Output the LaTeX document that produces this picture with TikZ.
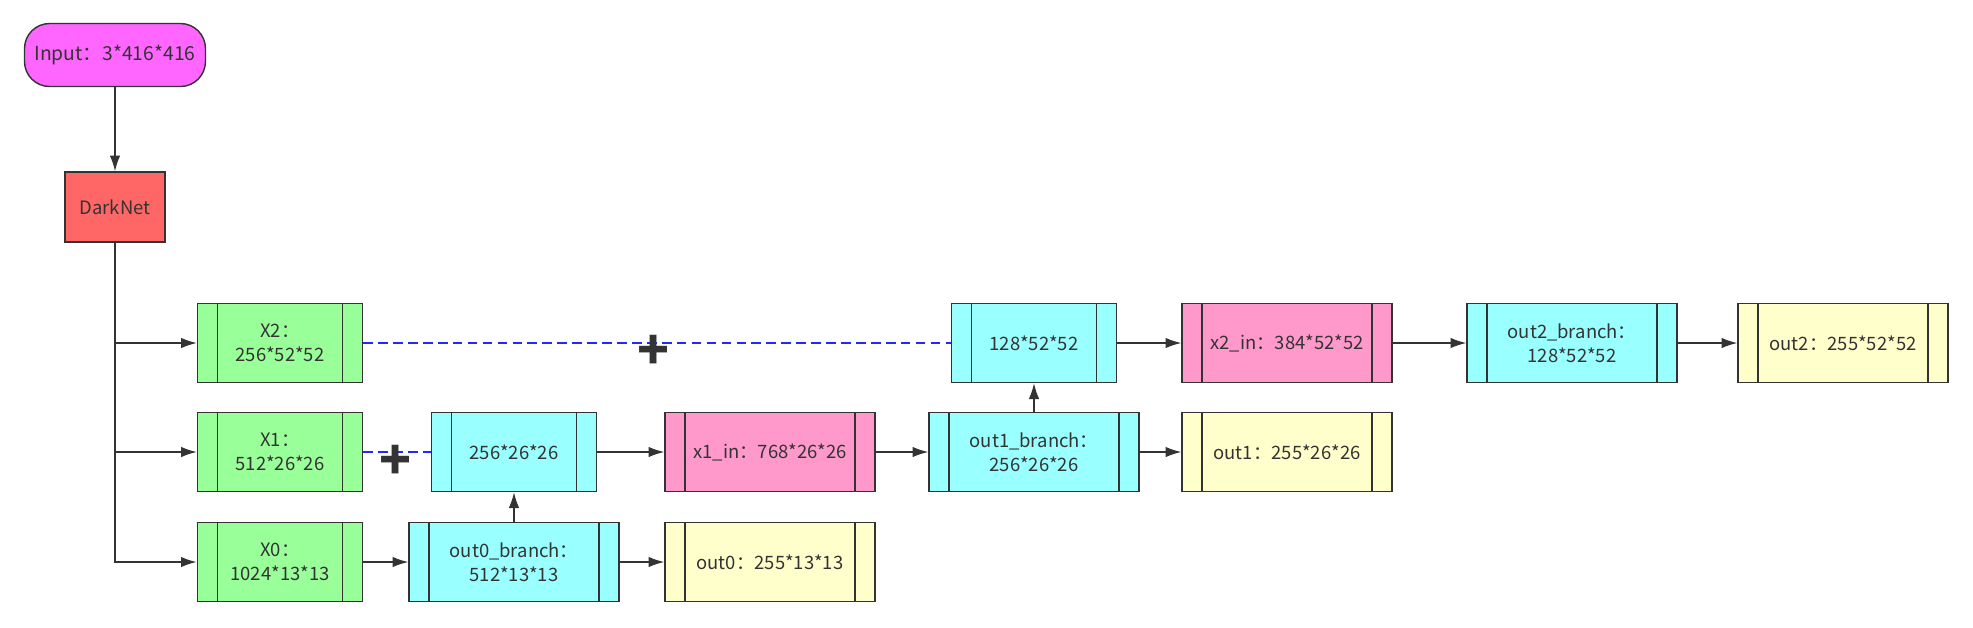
\documentclass[tikz,border=0pt]{standalone}
\usepackage{fontspec}
\newfontfamily\cjk{Noto Sans CJK SC}
\usetikzlibrary{arrows.meta}
\tikzset{>={Latex[length=9pt,width=6pt]}}
\definecolor{linecol}{HTML}{333333}
\definecolor{inpcol}{HTML}{FF66FF}
\definecolor{dncol}{HTML}{FF6666}
\definecolor{bbcol}{HTML}{99FF99}
\definecolor{brcol}{HTML}{99FFFF}
\definecolor{incol}{HTML}{FF99CC}
\definecolor{outcol}{HTML}{FFFFCC}
\definecolor{dashcol}{HTML}{2626FF}
\tikzset{
  txt/.style={text=linecol,font=\cjk\fontsize{10.5}{13.5}\selectfont,align=center},
  proc/.style={txt,draw=linecol,line width=0.8pt,minimum height=1.58cm,minimum width=4.2cm,
    path picture={
      \draw[linecol,line width=0.8pt]
        ([xshift=\ip]path picture bounding box.north west) -- ([xshift=\ip]path picture bounding box.south west)
        ([xshift=-\ip]path picture bounding box.north east) -- ([xshift=-\ip]path picture bounding box.south east);
    }},
  narrow/.style={minimum width=3.3cm},
  plus/.style={text=linecol,font=\cjk\fontsize{30}{30}\bfseries\selectfont,inner sep=0pt},
  conn/.style={->,linecol,line width=0.8pt},
  skip/.style={dashcol,line width=1pt,dash pattern=on 5.5pt off 3pt},
}

\begin{document}
\begin{tikzpicture}[x=0.02cm,y=-0.02cm]
  \def\ip{0.4cm}
  \useasboundingbox (0,0) rectangle (1973,627);

  % INPUT AND BACKBONE
  \node[txt,font=\cjk\fontsize{11}{15}\selectfont,inner xsep=1pt,draw=linecol,line width=0.8pt,fill=inpcol,
        rounded corners=0.5cm,minimum width=3.62cm,minimum height=1.26cm] (inp) at (115,55) {Input：3*416*416};
  \node[txt,draw=linecol,line width=0.8pt,fill=dncol,
        minimum width=2cm,minimum height=1.4cm] (dn) at (115,207) {DarkNet};

  \node[proc,narrow,fill=bbcol] (x2) at (280,343) {X2：\\256*52*52};
  \node[proc,narrow,fill=bbcol] (x1) at (280,452) {X1：\\512*26*26};
  \node[proc,narrow,fill=bbcol] (x0) at (280,562) {X0：\\1024*13*13};

  % SCALE 13
  \node[proc,fill=brcol]  (b0) at (514,562) {out0\_branch：\\512*13*13};
  \node[proc,fill=outcol] (o0) at (770,562) {out0：255*13*13};

  % SCALE 26
  \node[proc,narrow,fill=brcol] (c1) at (514,452) {256*26*26};
  \node[proc,fill=incol]  (in1) at (770,452)  {x1\_in：768*26*26};
  \node[proc,fill=brcol]  (b1)  at (1034,452) {out1\_branch：\\256*26*26};
  \node[proc,fill=outcol] (o1)  at (1287,452) {out1：255*26*26};

  % SCALE 52
  \node[proc,narrow,fill=brcol] (c2) at (1034,343) {128*52*52};
  \node[proc,fill=incol]  (in2) at (1287,343) {x2\_in：384*52*52};
  \node[proc,fill=brcol]  (b2)  at (1572,343) {out2\_branch：\\128*52*52};
  \node[proc,fill=outcol] (o2)  at (1843,343) {out2：255*52*52};

  % PATHS
  \draw[conn] (inp) -- (dn);
  \draw[conn,line width=1.1pt] (dn.south) |- (x0.west);
  \draw[conn] (dn.south) |- (x1.west);
  \draw[conn] (dn.south) |- (x2.west);

  \draw[conn] (x0) -- (b0);
  \draw[conn] (b0) -- (o0);
  \draw[conn] (b0) -- (c1);
  \draw[conn] (c1) -- (in1);
  \draw[conn] (in1) -- (b1);
  \draw[conn] (b1) -- (o1);
  \draw[conn] (b1) -- (c2);
  \draw[conn] (c2) -- (in2);
  \draw[conn] (in2) -- (b2);
  \draw[conn] (b2) -- (o2);

  % CONCAT
  \draw[skip] (x1.east) -- (c1.west);
  \draw[skip] (x2.east) -- (c2.west);
  \node[plus] (p1) at (396,462) {+};
  \node[plus] (p2) at (654,352) {+};

\end{tikzpicture}
\end{document}
